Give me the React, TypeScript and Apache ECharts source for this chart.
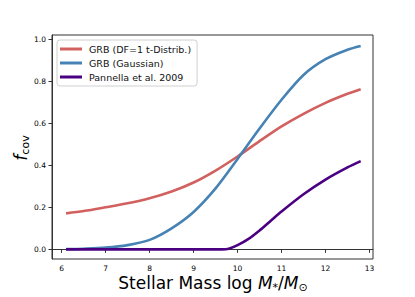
import React, { useEffect, useRef } from "react";
import * as echarts from "echarts";

const massGrid = [6.1, 6.5, 7.0, 7.5, 8.0, 8.5, 9.0, 9.5, 10.0, 10.5, 11.0, 11.5, 12.0, 12.5, 12.8];
const grbTDistrib = [0.171, 0.182, 0.200, 0.219, 0.243, 0.275, 0.318, 0.375, 0.442, 0.515, 0.585, 0.645, 0.697, 0.74, 0.762];
const grbGaussian = [0.001, 0.003, 0.008, 0.02, 0.045, 0.10, 0.178, 0.29, 0.43, 0.575, 0.712, 0.83, 0.905, 0.95, 0.968];
const pannellaMass = [6.1, 7.0, 8.0, 9.0, 9.5, 9.65, 9.8, 10.0, 10.25, 10.5, 10.75, 11.0, 11.5, 12.0, 12.5, 12.8];
const pannella = [0, 0, 0, 0, 0, 0, 0.003, 0.02, 0.05, 0.09, 0.135, 0.18, 0.262, 0.332, 0.39, 0.42];
const xTicks = [6, 7, 8, 9, 10, 11, 12, 13];
const yTicks = [0, 0.2, 0.4, 0.6, 0.8, 1.0];
const seriesNames = ["GRB (DF=1 t-Distrib.)", "GRB (Gaussian)", "Pannella et al. 2009"];

const pair = (xs: number[], ys: number[]) => xs.map((x, i) => [x, ys[i]]);

export default function App() {
  const ref = useRef<HTMLDivElement>(null);
  useEffect(() => {
    const chart = echarts.init(ref.current!, null, { renderer: "svg" });
    const font = "DejaVu Sans";
    const lineSeries = (name: string, data: number[][], color: string) => ({
      name,
      type: "line",
      data,
      showSymbol: false,
      smooth: 0.3,
      lineStyle: { color, width: 2.6 },
      itemStyle: { color },
      z: 3,
    });
    chart.setOption({
      animation: false,
      backgroundColor: "#fff",
      textStyle: { fontFamily: font },
      grid: { left: 52, right: 42, top: 35, bottom: 38, containLabel: false },
      legend: {
        orient: "vertical",
        left: 57,
        top: 40,
        padding: [4, 6, 4, 3],
        itemGap: 4,
        itemWidth: 22,
        itemHeight: 3,
        icon: "rect",
        borderColor: "#d0d0d0",
        borderWidth: 1,
        borderRadius: 3,
        backgroundColor: "rgba(255,255,255,0.8)",
        textStyle: { fontFamily: font, fontSize: 9.5, color: "#111", padding: [0, 0, 0, 2] },
        data: seriesNames,
      },
      xAxis: {
        type: "value",
        min: 5.78,
        max: 13.08,
        axisLine: { show: true, lineStyle: { color: "#333", width: 1 } },
        axisTick: { show: true, customValues: xTicks, length: 3.5, lineStyle: { color: "#333" } },
        axisLabel: {
          customValues: xTicks,
          fontSize: 7.5,
          color: "#000",
          margin: 5,
          fontFamily: font,
          formatter: (v: number) => String(Math.round(v)),
        },
        splitLine: { show: false },
      },
      yAxis: {
        type: "value",
        min: -0.046,
        max: 1.02,
        axisLine: { show: true, lineStyle: { color: "#333", width: 1 } },
        axisTick: { show: true, customValues: yTicks, length: 3.5, lineStyle: { color: "#333" } },
        axisLabel: {
          customValues: yTicks,
          fontSize: 7.5,
          color: "#000",
          margin: 6,
          fontFamily: font,
          formatter: (v: number) => v.toFixed(1),
        },
        splitLine: { show: false },
      },
      graphic: [
        {
          type: "rect",
          shape: { x: 52, y: 35, width: 321, height: 224 },
          style: { fill: "none", stroke: "#333", lineWidth: 1 },
          silent: true,
          z: 1,
        },
        {
          type: "text",
          x: 213,
          y: 283,
          style: {
            text: "{n|Stellar Mass log }{i|M}{s|*}{n|/}{i|M}{s|⊙}",
            align: "center",
            verticalAlign: "middle",
            rich: {
              n: { fontFamily: font, fontSize: 17, fill: "#000" },
              i: { fontFamily: font, fontSize: 17, fontStyle: "italic", fill: "#000" },
              s: { fontFamily: font, fontSize: 11, fill: "#000", padding: [8, 0, 0, 0] },
            },
          },
        },
        {
          type: "text",
          x: 21,
          y: 148,
          rotation: Math.PI / 2,
          style: {
            text: "{i|f}{s|cov}",
            align: "center",
            verticalAlign: "middle",
            rich: {
              i: { fontFamily: font, fontSize: 17, fontStyle: "italic", fill: "#000" },
              s: { fontFamily: font, fontSize: 11, fill: "#000", padding: [8, 0, 0, 0] },
            },
          },
        },
      ],
      series: [
        lineSeries(seriesNames[0], pair(massGrid, grbTDistrib), "#d1605e"),
        lineSeries(seriesNames[1], pair(massGrid, grbGaussian), "#4682b4"),
        lineSeries(seriesNames[2], pair(pannellaMass, pannella), "#4b0082"),
      ],
    });
    return () => chart.dispose();
  }, []);
  return <div ref={ref} style={{ width: 415, height: 297, position: "absolute", left: 0, top: 0 }} />;
}
